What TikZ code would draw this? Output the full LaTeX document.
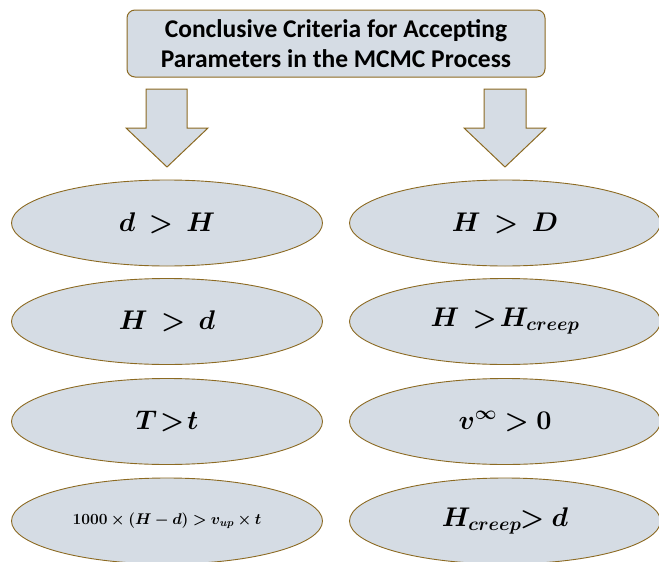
\RequirePackage{fix-cm}
\documentclass[tikz,border=0pt]{standalone}
\usepackage{fontspec}
\usepackage{amsmath,bm}
\usetikzlibrary{shapes.geometric}
\newfontfamily\titlefont{Carlito}
\definecolor{gold}{HTML}{8C6A22}
\definecolor{fillc}{HTML}{D5DCE4}
\tikzset{
  titlebox/.style={draw=gold, fill=fillc, rounded corners=8pt, minimum width=418pt, minimum height=67pt, line width=1pt, align=center, inner sep=0pt, font=\titlefont\bfseries\fontsize{25.5}{29.5}\selectfont},
  ell/.style={ellipse, draw=gold, fill=fillc, minimum width=311pt, minimum height=86pt, inner sep=0pt, line width=0.9pt, font=\fontsize{27}{31}\selectfont},
  smallell/.style={ell, font=\fontsize{15.5}{18}\selectfont},
  blockarrow/.style={draw=gold, fill=fillc, line width=1pt, line join=miter}
}
\begin{document}
\begin{tikzpicture}[x=1pt,y=-1pt]
\useasboundingbox (0,0) rectangle (659,562);
\node[titlebox] (title) at (336,43.5) {Conclusive Criteria for Accepting\\Parameters in the MCMC Process};
\draw[blockarrow] (146,89) -- (187,89) -- (187,128) -- (208,128) -- (167,167) -- (126,128) -- (146,128) -- cycle;
\draw[blockarrow] (484,89) -- (526,89) -- (526,128) -- (546,128) -- (505,167) -- (464,128) -- (484,128) -- cycle;
\node[ell] (l1) at (167,223) {$\bm{d\:>\:H}$};
\node[ell] (l2) at (167,321.5) {$\bm{H\:>\:d}$};
\node[ell] (l3) at (167,421.5) {$\bm{T\!>\!t}$};
\node[smallell] (l4) at (167,521) {$\bm{1000\times(H-d)>v_{up}\times t}$};
\node[ell] (r1) at (505,223) {$\bm{H\:>\:D}$};
\node[ell] (r2) at (505,321.5) {$\bm{H\:>\!H_{creep}}$};
\node[ell] (r3) at (505,421.5) {$\bm{v^{\infty}>0}$};
\node[ell] (r4) at (505,521) {$\bm{H_{creep}\!\!>d}$};
\end{tikzpicture}
\end{document}
